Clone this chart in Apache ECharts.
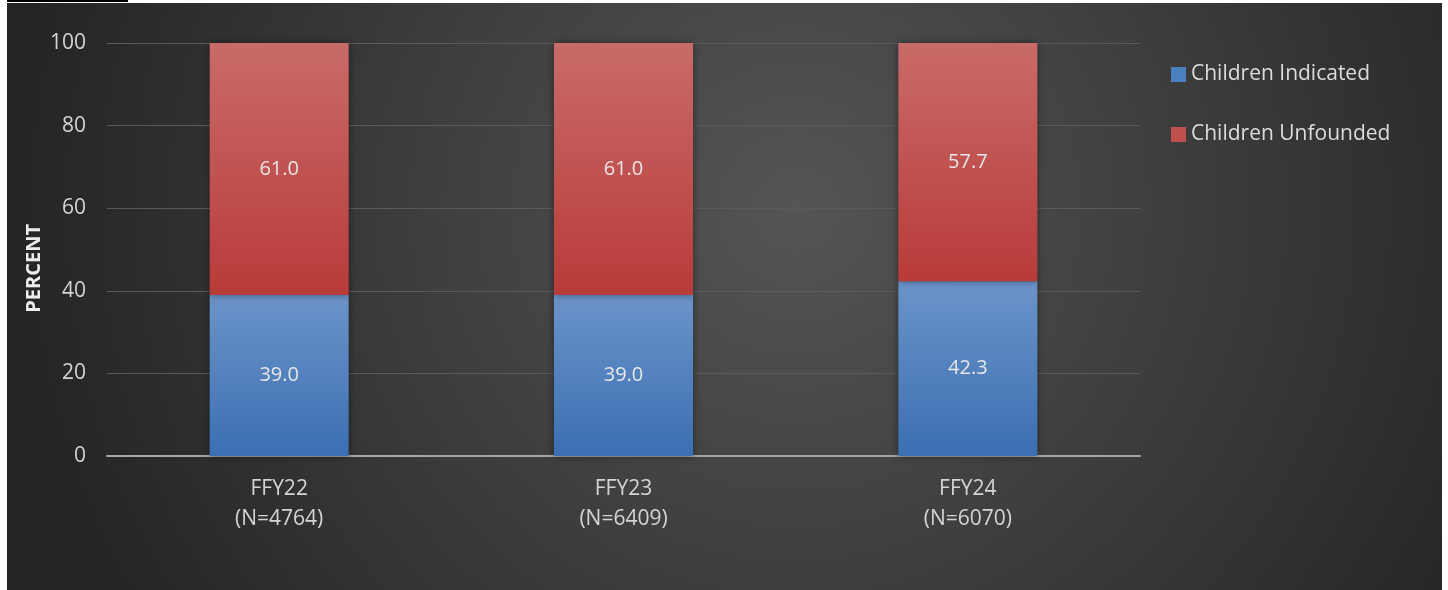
<!DOCTYPE html>
<html><head><meta charset="utf-8">
<script src="https://cdn.jsdelivr.net/npm/echarts@6/dist/echarts.min.js"></script>
<style>
html,body{margin:0;padding:0;background:#fff;width:1448px;height:590px;overflow:hidden;}
#topline{position:absolute;left:7px;top:0;width:121px;height:2px;background:#000;}
#c{position:absolute;left:7px;top:3px;width:1435px;height:587px;}
</style></head>
<body>
<div id="topline"></div>
<div id="c"></div>
<script>
var categories = ['FFY22\n(N=4764)', 'FFY23\n(N=6409)', 'FFY24\n(N=6070)'];
var indicated = [39.0, 39.0, 42.3];
var unfounded = [61.0, 61.0, 57.7];
var seriesNames = ['Children Indicated', 'Children Unfounded'];
var yAxisTitle = 'PERCENT';

var chart = echarts.init(document.getElementById('c'), null, {renderer:'canvas'});
var font = '"Open Sans", "Noto Sans", sans-serif';
function grad(top, bottom){
  return new echarts.graphic.LinearGradient(0,0,0,1,[{offset:0,color:top},{offset:1,color:bottom}]);
}
var labelStyle = {show:true, position:'inside', color:'#e6e6e6', fontSize:20, fontFamily:font,
  formatter:function(p){return p.value.toFixed(1);}};
chart.setOption({
  backgroundColor: new echarts.graphic.RadialGradient(0.55,0.35,1.35,[{offset:0,color:'#555555'},{offset:1,color:'#242424'}]),
  animation:false,
  grid:{left:100, right:302, top:40, bottom:134, containLabel:false},
  legend:{
    orient:'vertical', left:1159, top:56, itemGap:39, itemWidth:15, itemHeight:15,
    icon:'rect',
    textStyle:{color:'#dcdcdc', fontSize:21, fontFamily:font, padding:[0,0,0,0]},
    data:[
      {name:seriesNames[0], itemStyle:{color:'#4a7fc0'}},
      {name:seriesNames[1], itemStyle:{color:'#c0504d'}}
    ]
  },
  graphic:[{
    type:'text', left:17, top:221, rotation:Math.PI/2,
    style:{text:yAxisTitle, fill:'#ececec', font:'bold 20px ' + font}
  }],
  xAxis:{
    type:'category', data:categories,
    axisLine:{lineStyle:{color:'#a6a6a6', width:2}},
    axisTick:{show:false},
    axisLabel:{color:'#d4d4d4', fontSize:21, fontFamily:font, lineHeight:30, margin:18}
  },
  yAxis:{
    type:'value', min:0, max:100, interval:20,
    axisLine:{show:false}, axisTick:{show:false},
    axisLabel:{color:'#d4d4d4', fontSize:21, fontFamily:font, margin:21},
    splitLine:{lineStyle:{color:'#5a5a5a', width:1}}
  },
  series:[
    {name:seriesNames[0], type:'bar', stack:'a', data:indicated, barWidth:139,
     itemStyle:{color:grad('#6b94c9','#3b6fb2'), shadowColor:'rgba(0,0,0,0.45)', shadowBlur:8},
     label:labelStyle},
    {name:seriesNames[1], type:'bar', stack:'a', data:unfounded, barWidth:139,
     itemStyle:{color:grad('#c96b69','#b83b39'), shadowColor:'rgba(0,0,0,0.45)', shadowBlur:8},
     label:labelStyle}
  ]
});
</script>
</body></html>
